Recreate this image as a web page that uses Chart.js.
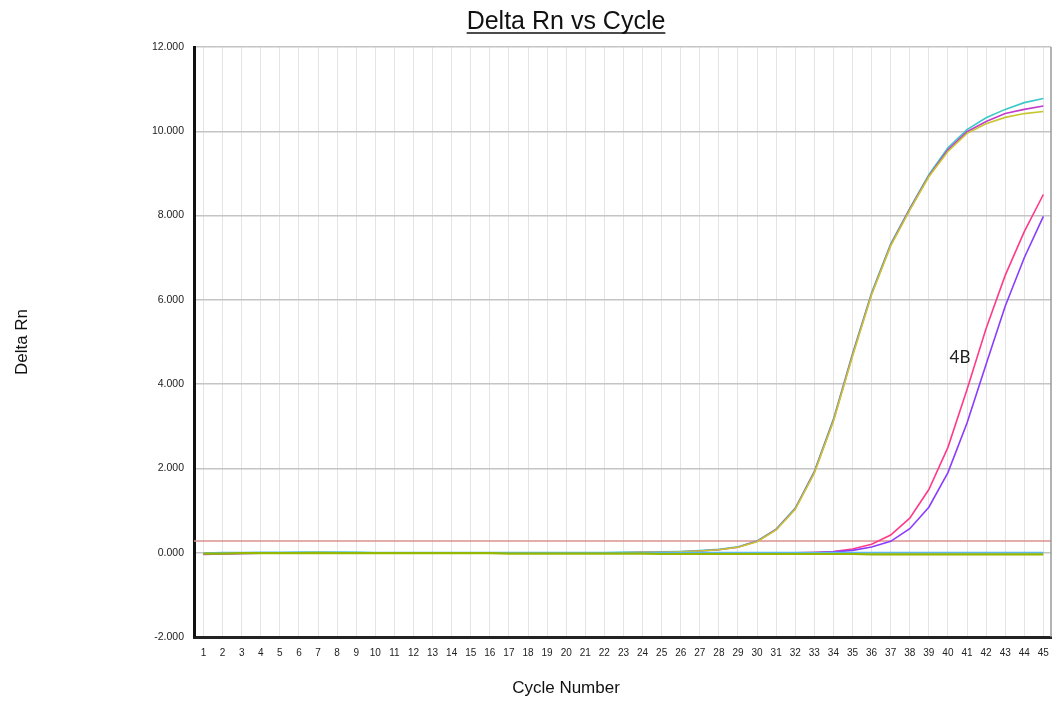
<!DOCTYPE html>
<html>
<head>
<meta charset="utf-8">
<script src="https://cdn.jsdelivr.net/npm/chart.js@4.4.0/dist/chart.umd.min.js"></script>
<style>
	html, body { margin: 0; padding: 0; background: #fff; }
	#wrap { width: 1052px; height: 702px; }
</style>
</head>
<body>
<div id="wrap"><canvas id="amp_chart" width="1052" height="702"></canvas></div>
<script>
// cycle numbers (x axis)
var cycles = [];
for (var c = 1; c <= 45; c++) cycles.push(c);

var y_ticks = [-2, 0, 2, 4, 6, 8, 10, 12];
var threshold_value = 0.28;

// sample curves
var sample_cyan = [
	-0.03, -0.02, -0.01, 0.00, 0.00, 0.01, 0.01, 0.01, 0.01, 0.00,
	0.00, 0.00, 0.00, 0.00, 0.00, 0.00, 0.00, 0.00, 0.00, 0.00,
	0.00, 0.00, 0.01, 0.01, 0.02, 0.03, 0.05, 0.08, 0.14, 0.28,
	0.56, 1.06, 1.93, 3.17, 4.72, 6.17, 7.33, 8.17, 8.97, 9.61,
	10.04, 10.32, 10.52, 10.68, 10.78
];
var sample_magenta = [
	-0.04, -0.03, -0.02, -0.01, 0.00, 0.00, 0.00, 0.00, 0.00, 0.00,
	0.00, 0.00, 0.00, 0.00, 0.00, -0.01, -0.01, -0.01, -0.01, -0.01,
	-0.01, 0.00, 0.00, 0.01, 0.01, 0.02, 0.04, 0.07, 0.13, 0.27,
	0.55, 1.04, 1.91, 3.14, 4.69, 6.14, 7.30, 8.15, 8.94, 9.56,
	9.99, 10.23, 10.42, 10.52, 10.60
];
var sample_olive = [
	-0.02, -0.01, -0.01, 0.00, 0.00, 0.00, 0.01, 0.00, 0.00, 0.00,
	0.00, 0.00, 0.00, 0.00, 0.00, 0.00, 0.00, 0.00, 0.00, 0.00,
	0.00, 0.00, 0.00, 0.01, 0.01, 0.02, 0.04, 0.07, 0.13, 0.26,
	0.54, 1.03, 1.89, 3.12, 4.66, 6.12, 7.28, 8.13, 8.92, 9.52,
	9.95, 10.18, 10.33, 10.42, 10.47
];
// the "4B" pair
var sample_4b_pink = [
	-0.02, -0.02, -0.01, -0.01, 0.00, 0.00, 0.00, 0.00, 0.00, 0.00,
	0.00, 0.00, 0.00, 0.00, 0.00, 0.00, 0.00, 0.00, 0.00, 0.00,
	-0.01, -0.01, -0.01, -0.01, -0.01, -0.01, -0.01, -0.01, -0.01, 0.00,
	0.00, 0.00, 0.01, 0.03, 0.09, 0.20, 0.42, 0.82, 1.50, 2.50,
	3.87, 5.32, 6.58, 7.62, 8.50
];
var sample_4b_purple = [
	-0.03, -0.02, -0.02, -0.01, -0.01, 0.00, 0.00, 0.00, 0.00, 0.00,
	0.00, 0.00, 0.00, 0.00, 0.00, 0.00, 0.00, 0.00, 0.00, 0.00,
	-0.01, -0.01, -0.01, -0.01, -0.01, -0.01, -0.01, -0.01, -0.01, -0.01,
	-0.01, 0.00, 0.00, 0.02, 0.055, 0.135, 0.27, 0.57, 1.08, 1.90,
	3.08, 4.47, 5.85, 7.00, 7.98
];
// flat ones (no amplification)
var ntc_blue = [
	-0.01, 0.00, 0.00, 0.01, 0.01, 0.01, 0.01, 0.01, 0.00, 0.00,
	0.00, 0.00, 0.00, 0.00, 0.00, 0.00, 0.00, 0.00, 0.00, 0.00,
	0.00, 0.00, 0.00, 0.00, 0.00, 0.00, 0.00, 0.00, 0.00, 0.00,
	0.00, 0.00, 0.00, 0.00, 0.00, 0.00, 0.00, 0.00, 0.00, 0.00,
	0.00, 0.00, 0.00, 0.00, 0.00
];
var ntc_green = [
	-0.02, -0.02, -0.01, -0.01, -0.01, -0.01, -0.01, -0.01, -0.01, -0.01,
	-0.01, -0.01, -0.01, -0.01, -0.01, -0.01, -0.02, -0.02, -0.02, -0.02,
	-0.02, -0.02, -0.02, -0.02, -0.03, -0.03, -0.03, -0.03, -0.03, -0.03,
	-0.03, -0.03, -0.03, -0.03, -0.03, -0.04, -0.04, -0.04, -0.04, -0.04,
	-0.04, -0.04, -0.04, -0.04, -0.04
];

function to_points(values) {
	return values.map(function (v, i) { return { x: cycles[i], y: v }; });
}

function make_line(label, values, color, width) {
	return {
		label: label,
		data: to_points(values),
		borderColor: color,
		backgroundColor: color,
		borderWidth: width || 1.6,
		pointRadius: 0,
		pointHoverRadius: 0,
		tension: 0,
		fill: false
	};
}

// title, x title, threshold, right border and the 4B note
var extras_plugin = {
	id: 'extras',
	beforeDatasetsDraw: function (chart) {
		var ctx = chart.ctx, area = chart.chartArea;
		var y = chart.scales.y.getPixelForValue(threshold_value);
		ctx.save();
		ctx.strokeStyle = '#dc9090';
		ctx.lineWidth = 1.5;
		ctx.beginPath();
		ctx.moveTo(area.left, y);
		ctx.lineTo(area.right, y);
		ctx.stroke();
		// right frame
		ctx.strokeStyle = '#9a9a9a';
		ctx.lineWidth = 1.5;
		ctx.beginPath();
		ctx.moveTo(area.right, area.top);
		ctx.lineTo(area.right, area.bottom);
		ctx.stroke();
		ctx.restore();
	},
	afterDraw: function (chart) {
		var ctx = chart.ctx;
		ctx.save();
		ctx.fillStyle = '#111';
		ctx.textAlign = 'center';
		ctx.textBaseline = 'alphabetic';
		ctx.font = '25px "Liberation Sans", Arial, sans-serif';
		var title = 'Delta Rn vs Cycle';
		var tx = 566, ty = 29;
		ctx.fillText(title, tx, ty);
		var w = ctx.measureText(title).width;
		ctx.strokeStyle = '#111';
		ctx.lineWidth = 1.5;
		ctx.beginPath();
		ctx.moveTo(tx - w / 2, ty + 4);
		ctx.lineTo(tx + w / 2, ty + 4);
		ctx.stroke();

		ctx.font = '17px "Liberation Sans", Arial, sans-serif';
		ctx.textBaseline = 'middle';
		ctx.fillText('Cycle Number', 566, 688);

		// label next to the late pair
		ctx.font = '17px Lato, "Open Sans", sans-serif';
		ctx.fillStyle = '#222';
		ctx.fillText('4B', chart.scales.x.getPixelForValue(40.63), chart.scales.y.getPixelForValue(4.63));
		ctx.restore();
	}
};

function draw_amplification(canvas_id) {
	var ctx = document.getElementById(canvas_id);
	if (ctx == null) {
		return;
	}
	var myChart = new Chart(ctx, {
		type: 'line',
		data: {
			datasets: [
				make_line('NTC 2', ntc_green, '#96b800', 2.2),
				make_line('NTC 1', ntc_blue, '#5ab8ee', 1.8),
				make_line('4B a', sample_4b_purple, '#8a3cff'),
				make_line('4B b', sample_4b_pink, '#ff3a8a'),
				make_line('S3', sample_olive, '#c8c630'),
				make_line('S2', sample_magenta, '#c23ccc'),
				make_line('S1', sample_cyan, '#3cc8c8')
			]
		},
		options: {
			responsive: false,
			animation: false,
			layout: {
				padding: { top: 47, right: 1, left: 0, bottom: 0 }
			},
			plugins: {
				legend: { display: false },
				tooltip: { enabled: false }
			},
			scales: {
				x: {
					type: 'linear',
					min: 0.5,
					max: 45.4,
					afterFit: function (scale) {
						scale.height = 65;
						// labels fit inside, no extra side room needed
						scale.paddingLeft = 0;
						scale.paddingRight = 0;
					},
					afterBuildTicks: function (scale) {
						scale.ticks = cycles.map(function (v) { return { value: v }; });
					},
					ticks: {
						autoSkip: false,
						maxRotation: 0,
						padding: 10,
						color: '#222',
						font: { size: 10, family: '"Liberation Sans", Arial, sans-serif' }
					},
					grid: {
						color: '#e4e4e4',
						lineWidth: 1,
						drawTicks: false
					},
					border: { color: '#222', width: 3 }
				},
				y: {
					min: -2,
					max: 12,
					afterFit: function (scale) {
						scale.width = 194;
						scale.paddingTop = 0;
						scale.paddingBottom = 0;
					},
					afterBuildTicks: function (scale) {
						scale.ticks = y_ticks.map(function (v) { return { value: v }; });
					},
					ticks: {
						padding: 10,
						color: '#222',
						font: { size: 10.5, family: '"Liberation Sans", Arial, sans-serif' },
						callback: function (v) { return Number(v).toFixed(3); }
					},
					grid: {
						color: '#c4c4c4',
						lineWidth: 1.5,
						drawTicks: false
					},
					border: { color: '#111', width: 3 },
					title: {
						display: true,
						text: 'Delta Rn',
						color: '#111',
						font: { size: 17, family: '"Liberation Sans", Arial, sans-serif' },
						padding: { top: 12 }
					}
				}
			}
		},
		plugins: [extras_plugin]
	});
}

draw_amplification('amp_chart');
</script>
</body>
</html>
